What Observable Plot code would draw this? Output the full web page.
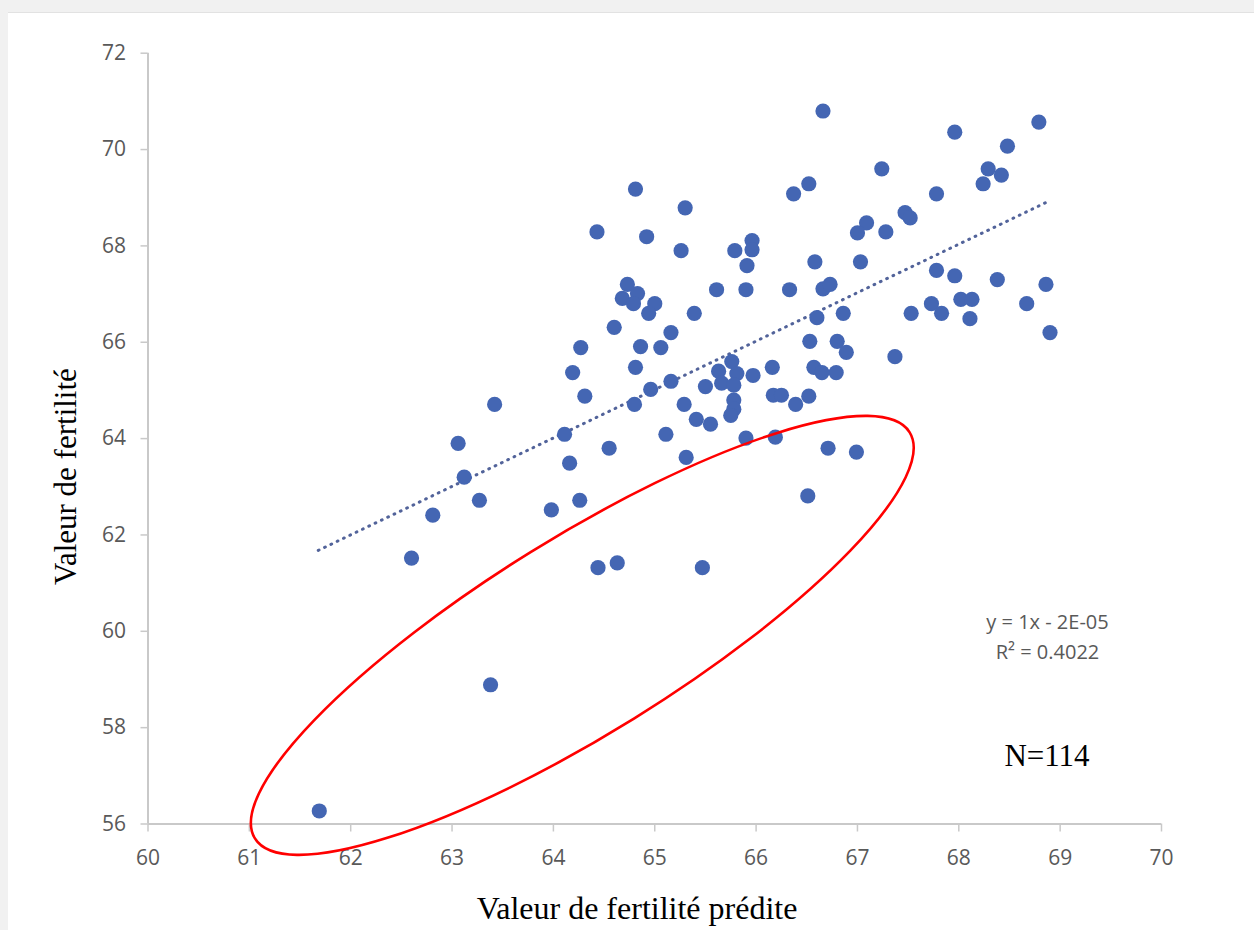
<!DOCTYPE html>
<html>
<head>
<meta charset="utf-8">
<script src="https://cdn.jsdelivr.net/npm/d3@7"></script>
<script src="https://cdn.jsdelivr.net/npm/@observablehq/plot@0.6"></script>
<style>
  html, body { margin: 0; padding: 0; }
  body { width: 1254px; height: 930px; background: #f1f1f1; position: relative; overflow: hidden; }
  #panel { position: absolute; left: 8px; top: 12px; right: 0; bottom: 0; background: #ffffff; border-top: 1px solid #e2e2e2; }
  #chart { position: absolute; left: 0; top: 0; }
</style>
</head>
<body>
<div id="panel"></div>
<div id="chart"></div>
<script>
// Predicted fertility value (x) and observed fertility value (y), one entry per animal
const predicted = [
  64.81, 64.43, 64.92, 65.30, 65.26, 64.73, 64.83, 64.68, 64.79, 65.00,
  64.94, 64.60, 65.16, 64.27, 64.86, 65.06, 64.19, 64.81, 65.16, 64.96,
  64.31, 63.42, 64.80, 65.29, 65.11, 63.06, 64.11, 64.55, 64.16, 67.24,
  66.52, 66.37, 67.78, 67.47, 67.52, 67.09, 67.00, 67.28, 65.79, 65.96,
  65.96, 65.91, 66.58, 67.03, 65.61, 65.90, 66.33, 66.66, 66.73, 67.78,
  67.96, 65.39, 66.86, 67.53, 67.73, 67.83, 68.02, 66.60, 66.53, 66.80,
  66.89, 67.37, 65.76, 65.63, 65.81, 65.97, 65.50, 65.66, 65.78, 66.16,
  66.57, 66.65, 66.79, 65.78, 65.78, 65.75, 66.17, 66.25, 66.39, 66.52,
  65.41, 65.55, 65.90, 66.19, 65.31, 66.71, 66.99, 68.79, 67.96, 68.48,
  68.29, 68.42, 68.24, 68.38, 68.86, 68.13, 68.11, 68.67, 68.90, 63.12,
  62.81, 63.27, 63.98, 64.26, 62.60, 64.44, 64.63, 65.47, 63.38, 61.69,
  66.51, 66.66
];
const observed = [
  69.18, 68.29, 68.19, 68.79, 67.90, 67.20, 67.01, 66.91, 66.80, 66.80,
  66.60, 66.31, 66.20, 65.89, 65.91, 65.89, 65.37, 65.48, 65.19, 65.02,
  64.88, 64.71, 64.71, 64.71, 64.09, 63.90, 64.09, 63.80, 63.49, 69.60,
  69.29, 69.08, 69.08, 68.69, 68.58, 68.48, 68.27, 68.29, 67.90, 68.11,
  67.92, 67.59, 67.67, 67.67, 67.09, 67.09, 67.09, 67.11, 67.20, 67.49,
  67.38, 66.60, 66.60, 66.60, 66.80, 66.60, 66.89, 66.51, 66.02, 66.02,
  65.79, 65.70, 65.60, 65.40, 65.35, 65.31, 65.08, 65.15, 65.11, 65.48,
  65.48, 65.37, 65.37, 64.80, 64.61, 64.48, 64.90, 64.90, 64.71, 64.88,
  64.40, 64.30, 64.01, 64.03, 63.61, 63.80, 63.72, 70.57, 70.36, 70.07,
  69.60, 69.47, 69.29, 67.30, 67.20, 66.89, 66.49, 66.80, 66.20, 63.20,
  62.41, 62.72, 62.52, 62.72, 61.52, 61.32, 61.42, 61.32, 58.89, 56.27,
  62.81, 70.80
];

// Linear trend line endpoints (y = 1x - 2E-05)
const trendX = [61.68, 68.90];
const trendY = [61.68, 68.94];

// Tick values
const xTicks = [60, 61, 62, 63, 64, 65, 66, 67, 68, 69, 70];
const yTicks = [56, 58, 60, 62, 64, 66, 68, 70, 72];

// Texts
const xTitle = "Valeur de fertilité prédite";
const yTitle = "Valeur de fertilité";
const equationText = "y = 1x - 2E-05";
const r2Text = "R² = 0.4022";
const nText = "N=114";

// Red highlight ellipse: ends of its long axis (data units)
const ellipseTipX = [61.06, 67.52];
const ellipseTipY = [55.69, 64.12];

const points = predicted.map((p, i) => ({predicted: p, observed: observed[i]}));
const trend = trendX.map((x, i) => ({x, y: trendY[i]}));

const tickColor = "#595959";
const axisLineColor = "#c9c9c9";

function ellipseMark(index, scales) {
  const x1 = scales.x(ellipseTipX[0]), y1 = scales.y(ellipseTipY[0]);
  const x2 = scales.x(ellipseTipX[1]), y2 = scales.y(ellipseTipY[1]);
  const cx = (x1 + x2) / 2, cy = (y1 + y2) / 2;
  const rx = Math.hypot(x2 - x1, y2 - y1) / 2;
  const angle = Math.atan2(y2 - y1, x2 - x1) * 180 / Math.PI;
  return d3.create("svg:ellipse")
    .attr("cx", cx).attr("cy", cy)
    .attr("rx", rx).attr("ry", 98)
    .attr("transform", `rotate(${angle},${cx},${cy})`)
    .attr("fill", "none")
    .attr("stroke", "#ff0000")
    .attr("stroke-width", 2.6)
    .node();
}

const hasAxisMarks = typeof Plot.axisX === "function";

const axisMarks = hasAxisMarks ? [
  Plot.axisX(xTicks, {tickSize: 8, tickPadding: 18, stroke: axisLineColor, strokeWidth: 1.5, fill: tickColor, fontSize: 21, fontFamily: "Open Sans", label: null}),
  Plot.axisY(yTicks, {tickSize: 7, tickPadding: 15, stroke: axisLineColor, strokeWidth: 1.5, fill: tickColor, fontSize: 21, fontFamily: "Open Sans", label: null})
] : [];

const chart = Plot.plot({
  width: 1254,
  height: 930,
  marginLeft: 147.5,
  marginRight: 93,
  marginTop: 52.7,
  marginBottom: 106.5,
  style: {
    fontFamily: "Open Sans",
    fontSize: "21px",
    color: tickColor,
    background: "transparent",
    overflow: "visible"
  },
  x: hasAxisMarks ? {domain: [60, 70]} : {domain: [60, 70], ticks: xTicks, tickSize: 8, tickPadding: 18, label: null},
  y: hasAxisMarks ? {domain: [56, 72]} : {domain: [56, 72], ticks: yTicks, tickSize: 7, tickPadding: 15, label: null},
  marks: [
    ...axisMarks,
    Plot.ruleX([60], {stroke: axisLineColor, strokeWidth: 2}),
    Plot.ruleY([56], {stroke: axisLineColor, strokeWidth: 2}),
    Plot.line(trend, {x: "x", y: "y", stroke: "#52639a", strokeWidth: 3, strokeDasharray: "0.8,6.2", strokeLinecap: "round"}),
    Plot.dot(points, {x: "predicted", y: "observed", r: 7.6, fill: "#4466b3", stroke: "none"}),
    ellipseMark,
    Plot.text([equationText], {frameAnchor: "bottom-right", textAnchor: "middle", lineAnchor: "bottom", dx: -114, dy: -195.5, fontSize: 20, fontFamily: "Open Sans", fill: tickColor}),
    Plot.text([r2Text], {frameAnchor: "bottom-right", textAnchor: "middle", lineAnchor: "bottom", dx: -114, dy: -165.5, fontSize: 20, fontFamily: "Open Sans", fill: tickColor}),
    Plot.text([nText], {frameAnchor: "bottom-right", textAnchor: "middle", lineAnchor: "bottom", dx: -114.5, dy: -58.5, fontSize: 31, fontFamily: "Liberation Serif", fill: "#000000"}),
    Plot.text([xTitle], {frameAnchor: "bottom", textAnchor: "middle", lineAnchor: "bottom", dx: -17.75, dy: 95, fontSize: 32, fontFamily: "Liberation Serif", fill: "#000000"}),
    Plot.text([yTitle], {frameAnchor: "left", rotate: -90, textAnchor: "middle", lineAnchor: "bottom", dx: -72.5, dy: 38, fontSize: 31, fontFamily: "Liberation Serif", fill: "#000000"})
  ]
});

document.getElementById("chart").appendChild(chart);
</script>
</body>
</html>
